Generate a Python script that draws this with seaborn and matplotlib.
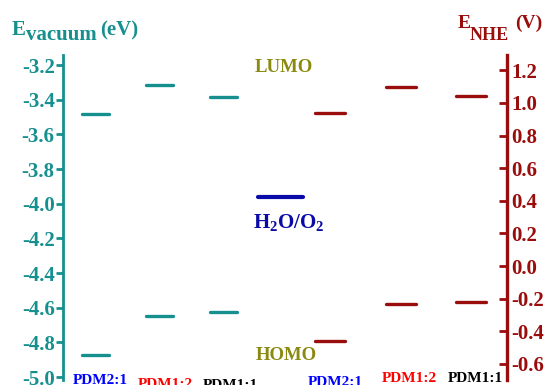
import matplotlib
matplotlib.use("Agg")
import matplotlib.pyplot as plt
import seaborn as sns
import pandas as pd

# Band-edge energies of the three PDM ratios
samples = ["PDM2:1", "PDM1:2", "PDM1:1"]
sample_colors = ["#0000ff", "#ff0000", "#000000"]
lumo_vacuum = [-3.48, -3.315, -3.385]   # eV vs vacuum
homo_vacuum = [-4.87, -4.65, -4.625]
lumo_nhe = [0.94, 1.10, 1.04]           # V vs NHE
homo_nhe = [-0.46, -0.23, -0.22]
water_oxidation = -3.96                 # H2O/O2 level, eV vs vacuum

vac_ticks = [-3.2, -3.4, -3.6, -3.8, -4.0, -4.2, -4.4, -4.6, -4.8, -5.0]
nhe_ticks = [1.2, 1.0, 0.8, 0.6, 0.4, 0.2, 0.0, -0.2, -0.4, -0.6]

TEAL = "#16908f"
DARKRED = "#9a0d0d"
OLIVE = "#8a8a10"
NAVY = "#0a0aa8"

sns.set_theme(style="white")
plt.rcParams["font.family"] = ["Liberation Serif", "DejaVu Serif"]
plt.rcParams["font.weight"] = "bold"
plt.rcParams["mathtext.fontset"] = "custom"
plt.rcParams["mathtext.rm"] = "Liberation Serif:bold"
plt.rcParams["mathtext.bf"] = "Liberation Serif:bold"
plt.rcParams["mathtext.it"] = "Liberation Serif:bold:italic"

W, H = 550, 385
fig = plt.figure(figsize=(W / 100, H / 100), dpi=100)
left_px, right_px, top_px, bot_px = 63, 507, 55, 380
ax = fig.add_axes([left_px / W, 1 - bot_px / H,
                   (right_px - left_px) / W, (bot_px - top_px) / H])
ax2 = ax.twinx()

# horizontal placement of the level segments (axes pixel units)
vac_centers, vac_half = [32, 96.5, 160.5], 13.5
nhe_centers, nhe_half = [267, 338, 408], 15


def level_frame(centers, half, values, tag):
    rows = []
    for name, c, v in zip(samples, centers, values):
        rows.append({"level": f"{tag}-{name}", "x": c - half, "E": v})
        rows.append({"level": f"{tag}-{name}", "x": c + half, "E": v})
    return pd.DataFrame(rows)


vac_df = pd.concat([level_frame(vac_centers, vac_half, lumo_vacuum, "L"),
                    level_frame(vac_centers, vac_half, homo_vacuum, "H")])
nhe_df = pd.concat([level_frame(nhe_centers, nhe_half, lumo_nhe, "L"),
                    level_frame(nhe_centers, nhe_half, homo_nhe, "H")])
water_df = pd.DataFrame({"level": ["w", "w"], "x": [195, 240],
                         "E": [water_oxidation, water_oxidation]})

sns.lineplot(data=vac_df, x="x", y="E", units="level", estimator=None,
             color=TEAL, lw=2.4, ax=ax, legend=False)
sns.lineplot(data=water_df, x="x", y="E", units="level", estimator=None,
             color=NAVY, lw=3.0, ax=ax, legend=False)
sns.lineplot(data=nhe_df, x="x", y="E", units="level", estimator=None,
             color=DARKRED, lw=2.4, ax=ax2, legend=False)

ax.set_xlim(0, right_px - left_px)
ax.set_ylim(-5.017, -3.142)
ax2.set_ylim(-0.699, 1.294)

for a in (ax, ax2):
    a.set_xlabel("")
    a.set_ylabel("")
    a.set_xticks([])
    a.set_facecolor("none")
    for s in ("top", "bottom"):
        a.spines[s].set_visible(False)

ax.spines["right"].set_visible(False)
ax.spines["left"].set_color(TEAL)
ax.spines["left"].set_linewidth(2.0)
ax.set_yticks(vac_ticks)
ax.set_yticklabels([f"{t:.1f}" for t in vac_ticks])
ax.tick_params(axis="y", left=True, direction="out", length=5, width=2,
               color=TEAL, labelcolor=TEAL, labelsize=15, pad=1)

ax2.spines["left"].set_visible(False)
ax2.spines["right"].set_color(DARKRED)
ax2.spines["right"].set_linewidth(2.4)
ax2.set_yticks(nhe_ticks)
ax2.set_yticklabels([f"{t:.1f}" for t in nhe_ticks])
ax2.tick_params(axis="y", right=True, direction="in", length=6, width=2,
                color=DARKRED, labelcolor=DARKRED, labelsize=15, pad=3)


def ftext(x, y, s, **kw):
    fig.text(x / W, 1 - y / H, s, fontweight="bold", **kw)


# axis titles
ftext(12, 35, "E", color=TEAL, fontsize=15, va="baseline")
ftext(26, 40, "vacuum", color=TEAL, fontsize=15, va="baseline")
ftext(100, 35, "(eV)", color=TEAL, fontsize=15, va="baseline")
ftext(458, 28, "E", color=DARKRED, fontsize=14, va="baseline")
ftext(470, 40, "NHE", color=DARKRED, fontsize=13, va="baseline")
ftext(515, 28, "(V)", color=DARKRED, fontsize=14, va="baseline")

# annotations
ftext(284, 72, "LUMO", color=OLIVE, fontsize=13.5, ha="center", va="baseline")
ftext(286, 360, "HOMO", color=OLIVE, fontsize=13.5, ha="center", va="baseline")
ftext(289, 228, r"H$_\mathbf{2}$O/O$_\mathbf{2}$", color=NAVY, fontsize=15,
      ha="center", va="baseline")

# sample names under each group of levels
vac_label_x = [100, 165, 230]
vac_label_top = [375, 379, 380]
nhe_label_x = [335, 409, 475]
nhe_label_top = [377, 373, 373]
for name, col, x, t in zip(samples, sample_colors, vac_label_x, vac_label_top):
    ftext(x, t - 1, name, color=col, fontsize=11, ha="center", va="top")
for name, col, x, t in zip(samples, sample_colors, nhe_label_x, nhe_label_top):
    ftext(x, t - 1, name, color=col, fontsize=11, ha="center", va="top")

fig.savefig("out.png", dpi=100)
